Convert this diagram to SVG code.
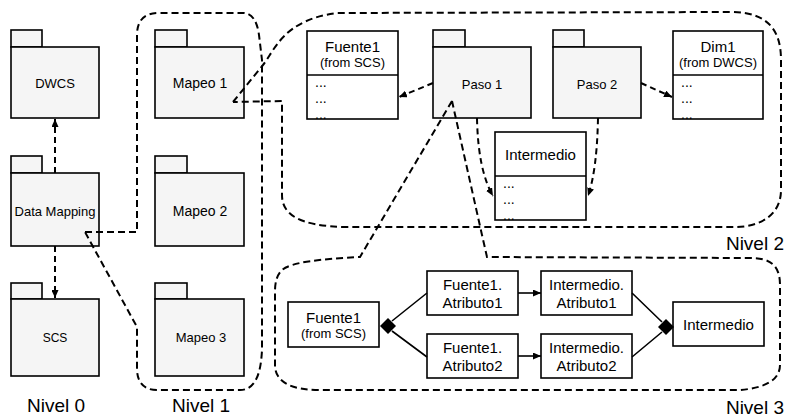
<svg xmlns="http://www.w3.org/2000/svg" width="785" height="418" viewBox="0 0 785 418">
  <style>
    .pkg rect { fill: #f5f5f5; stroke: #000; stroke-width: 1.6; }
    .cls rect, .cls line { fill: #fff; stroke: #000; stroke-width: 1.6; }
    .box rect { fill: #fff; stroke: #000; stroke-width: 1.6; }
    text { font-family: "Liberation Sans", Arial, sans-serif; fill: #000; text-anchor: middle; }
    .lbl { font-size: 13px; }
    .t15 { font-size: 15px; }
    .t13 { font-size: 13px; }
    .dots { font-size: 14px; text-anchor: start; }
    .lvl { font-size: 19px; }
    .region { fill: none; stroke: #000; stroke-width: 2; stroke-dasharray: 7 4; }
    .dep { fill: none; stroke: #000; stroke-width: 2; stroke-dasharray: 6 4; marker-end: url(#arrow); }
    .solid { fill: none; stroke: #000; stroke-width: 1.6; }
    .solidarrow { fill: none; stroke: #000; stroke-width: 1.6; marker-end: url(#arrow); }
  </style>
  <defs>
    <marker id="arrow" viewBox="0 0 8 7" refX="8" refY="3.5" markerWidth="8" markerHeight="7" markerUnits="userSpaceOnUse" orient="auto">
      <path d="M0,0 L8,3.5 L0,7 z" fill="#000"/>
    </marker>
  </defs>

  <!-- Nivel 0 -->
  <g id="dwcs" class="pkg">
    <rect x="11" y="30" width="31" height="17"/>
    <rect x="11" y="47" width="88" height="71"/>
    <text class="lbl" x="55" y="88">DWCS</text>
  </g>
  <g id="data-mapping" class="pkg">
    <rect x="11" y="156" width="31" height="17"/>
    <rect x="11" y="173" width="88" height="73"/>
    <text class="lbl" x="55" y="216">Data Mapping</text>
  </g>
  <g id="scs" class="pkg">
    <rect x="11" y="283" width="31" height="16"/>
    <rect x="11" y="299" width="88" height="77"/>
    <text class="lbl" x="55" y="342" style="font-size:12px">SCS</text>
  </g>

  <!-- Nivel 1 -->
  <g id="mapeo1" class="pkg">
    <rect x="155" y="30" width="32" height="17"/>
    <rect x="155" y="47" width="89" height="71"/>
    <text class="lbl" x="200" y="88" style="font-size:14px">Mapeo 1</text>
  </g>
  <g id="mapeo2" class="pkg">
    <rect x="155" y="156" width="32" height="17"/>
    <rect x="155" y="173" width="89" height="73"/>
    <text class="lbl" x="200" y="216" style="font-size:14px">Mapeo 2</text>
  </g>
  <g id="mapeo3" class="pkg">
    <rect x="155" y="283" width="32" height="16"/>
    <rect x="155" y="299" width="89" height="77"/>
    <text class="lbl" x="201" y="342">Mapeo 3</text>
  </g>

  <!-- Nivel 2 -->
  <g id="fuente1-n2" class="cls">
    <rect x="307" y="31" width="91" height="88"/>
    <line x1="307" y1="75" x2="398" y2="75"/>
    <text class="t15" x="352.5" y="52">Fuente1</text>
    <text class="t13" x="352.5" y="67">(from SCS)</text>
    <text class="dots" x="315" y="87">...</text>
    <text class="dots" x="315" y="103">...</text>
    <text class="dots" x="315" y="119">...</text>
  </g>
  <g id="paso1" class="pkg">
    <rect x="433" y="30" width="32" height="17"/>
    <rect x="433" y="47" width="98" height="71"/>
    <text class="lbl" x="482" y="89">Paso 1</text>
  </g>
  <g id="paso2" class="pkg">
    <rect x="553" y="30" width="31" height="17"/>
    <rect x="553" y="47" width="88" height="71"/>
    <text class="lbl" x="597" y="89">Paso 2</text>
  </g>
  <g id="dim1" class="cls">
    <rect x="673" y="31" width="90" height="88"/>
    <line x1="673" y1="75" x2="763" y2="75"/>
    <text class="t15" x="718" y="52">Dim1</text>
    <text class="t13" x="718" y="67">(from DWCS)</text>
    <text class="dots" x="681" y="87">...</text>
    <text class="dots" x="681" y="103">...</text>
    <text class="dots" x="681" y="119">...</text>
  </g>
  <g id="intermedio-n2" class="cls">
    <rect x="495" y="132" width="91" height="88"/>
    <line x1="495" y1="176" x2="586" y2="176"/>
    <text class="t15" x="540.5" y="160">Intermedio</text>
    <text class="dots" x="503" y="188">...</text>
    <text class="dots" x="503" y="204">...</text>
    <text class="dots" x="503" y="220">...</text>
  </g>

  <!-- Nivel 3 -->
  <g id="fuente1-n3" class="box">
    <rect x="288" y="302" width="91" height="45"/>
    <text class="t15" x="333.5" y="323">Fuente1</text>
    <text class="t13" x="333.5" y="338">(from SCS)</text>
  </g>
  <g id="fuente1-atributo1" class="box">
    <rect x="427" y="271" width="91" height="44"/>
    <text class="t15" x="472.5" y="290">Fuente1.</text>
    <text class="t15" x="472.5" y="308">Atributo1</text>
  </g>
  <g id="fuente1-atributo2" class="box">
    <rect x="427" y="334" width="91" height="44"/>
    <text class="t15" x="472.5" y="353">Fuente1.</text>
    <text class="t15" x="472.5" y="371">Atributo2</text>
  </g>
  <g id="intermedio-atributo1" class="box">
    <rect x="541" y="271" width="91" height="44"/>
    <text class="t15" x="586.5" y="290">Intermedio.</text>
    <text class="t15" x="586.5" y="308">Atributo1</text>
  </g>
  <g id="intermedio-atributo2" class="box">
    <rect x="541" y="334" width="91" height="44"/>
    <text class="t15" x="586.5" y="353">Intermedio.</text>
    <text class="t15" x="586.5" y="371">Atributo2</text>
  </g>
  <g id="intermedio-n3" class="box">
    <rect x="673" y="302" width="91" height="44"/>
    <text class="t15" x="718.5" y="330">Intermedio</text>
  </g>

  <!-- level outlines, drawn over the nodes they expand from -->
  <g id="regions">
    <path class="region" d="M 85 232 L 137 232 L 137 35 Q 137 13 159 13 L 243 13 Q 256 13 259 35 L 262 60 L 262 350 C 261 370 257 390 240 390 L 157 390 Q 138 390 137 370 L 137 327 L 85 232"/>
    <path class="region" d="M 233 102 L 263 65 C 275 50 283 20 337 13 L 730 12 C 768 12 781 30 781 60 L 781 190 C 781 215 760 227 735 227 L 345 227 C 300 226 282 215 282 195 L 282 101 L 233 102"/>
    <path class="region" d="M 452 101 L 370 240 L 360 257 C 320 259 292 262 282 270 C 276 276 275 284 275 292 L 275 365 C 275 384 295 390 320 390 L 740 390 C 765 388 780 380 780 365 L 780 285 C 780 265 770 258 750 258 L 487 257 L 482 235 L 452 101"/>
  </g>

  <!-- connectors -->
  <g id="connectors">
    <line class="dep" x1="55" y1="173" x2="55" y2="119"/>
    <line class="dep" x1="55" y1="246" x2="55" y2="298"/>
    <line class="dep" x1="433" y1="83" x2="399" y2="97"/>
    <path class="dep" d="M 477 118 Q 478 170 493 196"/>
    <line class="dep" x1="641" y1="83" x2="672" y2="97"/>
    <path class="dep" d="M 598 118 Q 597 170 588 196"/>
    <path class="solid" d="M 392 321 L 427 293 M 392 331 L 427 357"/>
    <path d="M 380 326 L 388 318 L 396 326 L 388 334 z" fill="#000"/>
    <line class="solidarrow" x1="518" y1="293" x2="541" y2="293"/>
    <line class="solidarrow" x1="518" y1="356" x2="541" y2="356"/>
    <path class="solid" d="M 632 293 L 662 322 M 632 357 L 662 332"/>
    <path d="M 658 327 L 666 319 L 674 327 L 666 335 z" fill="#000"/>
  </g>

  <!-- level captions -->
  <g id="captions">
    <text class="lvl" x="56" y="412">Nivel 0</text>
    <text class="lvl" x="201" y="412">Nivel 1</text>
    <text class="lvl" x="784" y="250" style="text-anchor:end">Nivel 2</text>
    <text class="lvl" x="784" y="414" style="text-anchor:end">Nivel 3</text>
  </g>
</svg>
